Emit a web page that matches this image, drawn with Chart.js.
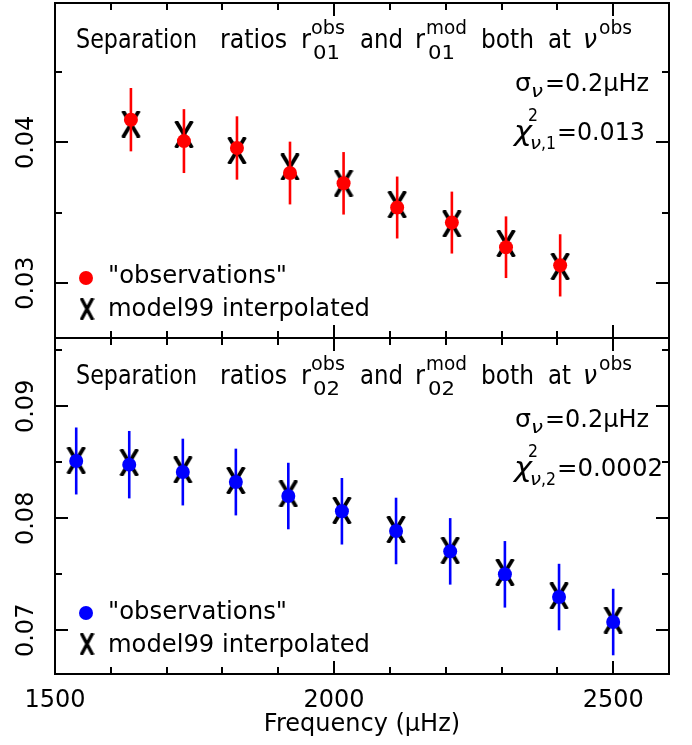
<!DOCTYPE html>
<html><head><meta charset="utf-8">
<script src="https://cdn.jsdelivr.net/npm/chart.js@4/dist/chart.umd.min.js"></script>
<style>
html,body{margin:0;padding:0;background:#fff;}
#wrap{position:relative;width:692px;height:745px;overflow:hidden;background:#fff;}
#c1{position:absolute;left:0;top:0;width:692px;height:345px;}
#c2{position:absolute;left:0;top:330px;width:692px;height:415px;}
</style></head><body>
<div id="wrap"><canvas id="c1" width="692" height="345"></canvas><canvas id="c2" width="692" height="415"></canvas></div>
<script>
// ---- data ----
const freq01 = [1636, 1731, 1826, 1921, 2017, 2113, 2211, 2308, 2405];
const r01Obs = [0.04161, 0.04009, 0.03960, 0.03782, 0.03709, 0.03537, 0.03430, 0.03255, 0.03126];
const r01Err = [0.00225, 0.00227, 0.00225, 0.00223, 0.00222, 0.00220, 0.00220, 0.00219, 0.00221];
const r01Mod = [0.04130, 0.04057, 0.03941, 0.03825, 0.03710, 0.03558, 0.03421, 0.03282, 0.03118];

const freq02 = [1538, 1633, 1729, 1824, 1918, 2014, 2111, 2208, 2306, 2403, 2500];
const r02Obs = [0.08512, 0.08479, 0.08413, 0.08324, 0.08199, 0.08063, 0.07887, 0.07705, 0.07500, 0.07297, 0.07074];
const r02Err = [0.00299, 0.00301, 0.00298, 0.00298, 0.00297, 0.00297, 0.00297, 0.00297, 0.00297, 0.00297, 0.00297];
const r02Mod = [0.08518, 0.08498, 0.08433, 0.08338, 0.08219, 0.08071, 0.07900, 0.07714, 0.07518, 0.07308, 0.07092];

const xMajor = [1500, 2000, 2500];
const xMinor = [1600, 1700, 1800, 1900, 2100, 2200, 2300, 2400];
const y01Major = [0.03, 0.04];
const y01Minor = [0.035, 0.045];
const y02Major = [0.07, 0.08, 0.09];
const y02Minor = [0.075, 0.085, 0.095];

const sigmaText = '=0.2\u03BCHz';
const chi2Text01 = '=0.013';
const chi2Text02 = '=0.0002';
const obsLabel = '"observations"';
const modLabel = 'model99 interpolated';
const xTitle = 'Frequency (\u03BCHz)';

const FONT = '"DejaVu Sans"';

function makeX(w, h, lw) {
  const c = document.createElement('canvas');
  c.width = w; c.height = h;
  const g = c.getContext('2d');
  g.strokeStyle = '#000'; g.lineWidth = lw; g.lineCap = 'butt';
  g.beginPath();
  g.moveTo(lw * 0.5, 0); g.lineTo(w - lw * 0.5, h);
  g.moveTo(w - lw * 0.5, 0); g.lineTo(lw * 0.5, h);
  g.stroke();
  return c;
}
const xMark = makeX(20, 27, 3.8);
const xMarkLegend = makeX(15, 22, 3.4);

function txt(ctx, s, x, y, size, w, italic) {
  ctx.save();
  ctx.font = (italic ? 'italic ' : '') + size + 'px ' + FONT;
  ctx.fillStyle = '#000';
  ctx.textAlign = 'left';
  ctx.textBaseline = 'alphabetic';
  const m = ctx.measureText(s).width;
  const sx = w ? w / m : 1;
  ctx.translate(x, y);
  ctx.scale(sx, 1);
  ctx.fillText(s, 0, 0);
  ctx.restore();
}

function panelTexts(dy, sub, chiSub, chiText, chiW) {
  const yb = 48 + dy;
  return [
    ['Separation', 76, yb, 27, 121],
    ['ratios', 220, yb, 27, 67],
    ['r', 301, yb, 27, 10],
    ['obs', 311, yb - 14, 20, 34],
    [sub, 313, yb + 11, 20, 27],
    ['and', 360, yb, 27, 43],
    ['r', 415, yb, 27, 10],
    ['mod', 426, yb - 14, 20, 41],
    [sub, 428, yb + 11, 20, 27],
    ['both', 481, yb, 27, 53],
    ['at', 548, yb, 27, 23],
    ['\u03BD', 583, yb, 27, 14, true],
    ['obs', 599, yb - 14, 20, 33],
    ['\u03C3', 515, 91 + dy, 24, 16],
    ['\u03BD', 531, 97 + dy, 17, 12, true],
    [sigmaText, 545, 91 + dy, 24, 104],
    ['\u03C7', 514, 140 + dy, 26, 18, true],
    ['2', 528, 121 + dy, 18, 10],
    ['\u03BD', 530, 149 + dy, 18, 11, true],
    [',' + chiSub, 541, 149 + dy, 18, 15],
    [chiText, 557, 140 + dy, 25, chiW],
    [obsLabel, 108, 283 + dy, 25, 179],
    [modLabel, 108, 316 + dy, 25, 262]
  ];
}

function panelPlugin(cfg) {
  return {
    id: 'panel' + cfg.name,
    beforeDatasetDraw(chart, args) {
      if (args.index !== 0) return;
      const ctx = chart.ctx, xs = chart.scales.x, ys = chart.scales.y;
      ctx.save();
      ctx.strokeStyle = cfg.color; ctx.lineWidth = 2.6; ctx.lineCap = 'butt';
      cfg.freq.forEach((f, i) => {
        const px = xs.getPixelForValue(f);
        ctx.beginPath();
        ctx.moveTo(px, ys.getPixelForValue(cfg.obs[i] - cfg.err[i]));
        ctx.lineTo(px, ys.getPixelForValue(cfg.obs[i] + cfg.err[i]));
        ctx.stroke();
      });
      ctx.restore();
    },
    afterDraw(chart) {
      const ctx = chart.ctx, a = chart.chartArea, xs = chart.scales.x, ys = chart.scales.y;
      ctx.save();
      ctx.strokeStyle = '#000'; ctx.lineWidth = 2;
      ctx.strokeRect(a.left, a.top, a.right - a.left, a.bottom - a.top);
      ctx.beginPath();
      const tk = (list, len) => list.forEach(v => {
        const px = Math.round(xs.getPixelForValue(v));
        ctx.moveTo(px, a.top); ctx.lineTo(px, a.top + len);
        ctx.moveTo(px, a.bottom); ctx.lineTo(px, a.bottom - len);
      });
      tk(xMajor, 13); tk(xMinor, 7);
      const tky = (list, len) => list.forEach(v => {
        const py = Math.round(ys.getPixelForValue(v));
        ctx.moveTo(a.left, py); ctx.lineTo(a.left + len, py);
        ctx.moveTo(a.right, py); ctx.lineTo(a.right - len, py);
      });
      tky(cfg.yMajor, 13); tky(cfg.yMinor, 7);
      ctx.stroke();
      ctx.translate(0, -cfg.offY);
      cfg.texts.forEach(t => txt(ctx, t[0], t[1], t[2], t[3], t[4], t[5]));
      const dy = cfg.dy;
      ctx.fillStyle = cfg.color;
      ctx.beginPath(); ctx.arc(86, 278 + dy, 7, 0, Math.PI * 2); ctx.fill();
      ctx.drawImage(xMarkLegend, 87 - xMarkLegend.width / 2, 309 + dy - xMarkLegend.height / 2);
      ctx.restore();
    }
  };
}

function yTickOpts() {
  return {autoSkip: false, minRotation: 90, maxRotation: 90, crossAlign: 'center', padding: 2,
          color: '#000', font: {family: FONT, size: 24}, callback: v => Number(v).toFixed(2)};
}

function makeDatasets(freq, obs, mod, color) {
  return [
    {label: obsLabel, data: freq.map((f, i) => ({x: f, y: obs[i]})), pointStyle: 'circle',
     pointRadius: 7, pointBackgroundColor: color, pointBorderWidth: 0, showLine: false},
    {label: modLabel, data: freq.map((f, i) => ({x: f, y: mod[i]})), pointStyle: xMark,
     pointRadius: 10, showLine: false}
  ];
}

new Chart(document.getElementById('c1'), {
  type: 'scatter',
  data: {datasets: makeDatasets(freq01, r01Obs, r01Mod, '#ff0000')},
  options: {
    responsive: false, animation: false, events: [],
    layout: {autoPadding: false, padding: {left: 0, right: 23, top: 3, bottom: 7}},
    plugins: {legend: {display: false}, tooltip: {enabled: false}},
    scales: {
      x: {type: 'linear', min: 1500, max: 2600, display: false},
      y: {type: 'linear', min: 0.0261, max: 0.0499, position: 'left',
          grid: {display: false, drawTicks: false}, border: {display: false},
          afterBuildTicks: s => { s.ticks = y01Major.map(v => ({value: v})); },
          afterFit: s => { s.width = 55; s.paddingTop = 0; s.paddingBottom = 0; },
          ticks: yTickOpts()}
    }
  },
  plugins: [panelPlugin({name: 'top', color: '#ff0000', freq: freq01, obs: r01Obs, err: r01Err,
    yMajor: y01Major, yMinor: y01Minor, offY: 0, dy: 0,
    texts: panelTexts(0, '01', '1', chi2Text01, 88)})]
});

new Chart(document.getElementById('c2'), {
  type: 'scatter',
  data: {datasets: makeDatasets(freq02, r02Obs, r02Mod, '#0000ff')},
  options: {
    responsive: false, animation: false, events: [],
    layout: {autoPadding: false, padding: {left: 0, right: 23, top: 8, bottom: 0}},
    plugins: {legend: {display: false}, tooltip: {enabled: false}},
    scales: {
      x: {type: 'linear', min: 1500, max: 2600, position: 'bottom',
          grid: {display: false, drawTicks: false}, border: {display: false},
          afterBuildTicks: s => { s.ticks = xMajor.map(v => ({value: v})); },
          afterFit: s => { s.height = 71; s.paddingLeft = 0; s.paddingRight = 0; },
          ticks: {autoSkip: false, maxRotation: 0, minRotation: 0, padding: 12, color: '#000',
                  font: {family: FONT, size: 24}, callback: v => String(v)},
          title: {display: true, text: xTitle, color: '#000', font: {family: FONT, size: 24},
                  padding: {top: 0, bottom: 6}}},
      y: {type: 'linear', min: 0.0661, max: 0.0961, position: 'left',
          grid: {display: false, drawTicks: false}, border: {display: false},
          afterBuildTicks: s => { s.ticks = y02Major.map(v => ({value: v})); },
          afterFit: s => { s.width = 55; s.paddingTop = 0; s.paddingBottom = 0; },
          ticks: yTickOpts()}
    }
  },
  plugins: [panelPlugin({name: 'bot', color: '#0000ff', freq: freq02, obs: r02Obs, err: r02Err,
    yMajor: y02Major, yMinor: y02Minor, offY: 330, dy: 335,
    texts: panelTexts(336, '02', '2', chi2Text02, 106)})]
});
</script>
</body></html>
